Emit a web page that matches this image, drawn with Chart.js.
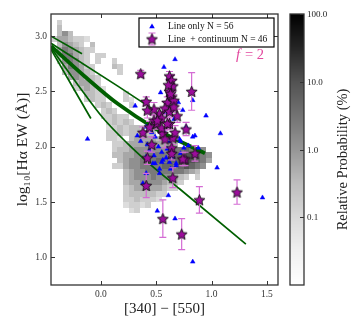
<!DOCTYPE html>
<html>
<head>
<meta charset="utf-8">
<script src="https://cdn.jsdelivr.net/npm/chart.js@4.4.0/dist/chart.umd.min.js"></script>
<style>
  html, body { margin: 0; padding: 0; background: #fff; }
  #wrap { width: 358px; height: 325px; }
</style>
</head>
<body>
<div id="wrap"><canvas id="chart"></canvas></div>
<script>
// axis ticks
const xTickVals = [0.0, 0.5, 1.0, 1.5];
const yTickVals = [1.0, 1.5, 2.0, 2.5, 3.0];
const cbTickVals = [100, 10, 1, 0.1];
const cbTickLabels = ['100.0', '10.0', '1.0', '0.1'];
const cbMin = 0.01, cbMax = 100;

// line only (blue triangles)
const triX = [-0.12, 0.67, 0.57, 0.54, 0.31, 0.41, 0.33, 0.42, 0.49, 0.83, 0.95, 1.08, 0.83, 0.85,
  0.77, 1.05, 1.46, 0.83, 0.67, 0.51, 0.61, 0.41, 0.38, 0.41, 0.44, 0.60, 0.71, 0.68, 0.55, 0.49,
  0.53, 0.47, 0.56, 0.62, 0.65, 0.53, 0.68, 0.58, 0.70, 0.72, 0.60, 0.52, 0.75, 0.79, 0.57, 0.46,
  0.66, 0.62, 0.55, 0.72, 0.48, 0.63, 0.88, 0.59, 0.36, 0.74];
const triY = [2.07, 2.79, 2.72, 2.49, 2.37, 2.18, 2.10, 2.02, 2.09, 2.42, 2.28, 2.12, 2.09, 2.10,
  2.18, 1.81, 1.54, 0.96, 1.35, 1.42, 1.56, 1.76, 1.67, 1.91, 1.97, 2.37, 2.07, 1.85, 1.86, 1.85,
  1.80, 1.85, 1.88, 1.86, 1.91, 1.76, 1.83, 2.30, 2.40, 2.05, 1.98, 2.00, 1.99, 2.01, 2.15, 2.13,
  2.25, 2.05, 1.95, 1.94, 1.92, 1.80, 1.99, 1.90, 2.05, 2.33];

// line + continuum (stars with error bars)
const starX = [0.36, 0.82, 0.41, 0.62, 0.64, 0.65, 0.62, 0.64, 0.60, 0.58, 0.62, 0.53, 0.48, 0.55,
  0.69, 0.48, 0.38, 0.42, 0.46, 0.50, 0.56, 0.62, 0.65, 0.64, 0.42, 0.58, 0.64, 0.76, 0.85, 0.77,
  0.65, 0.41, 0.89, 0.56, 0.73, 1.23, 0.51, 0.55, 0.60, 0.67, 0.66, 0.61, 0.63, 0.44, 0.74, 0.66];
const starY = [2.66, 2.50, 2.41, 2.64, 2.60, 2.55, 2.50, 2.45, 2.40, 2.35, 2.32, 2.30, 2.34, 2.26,
  2.28, 2.24, 2.13, 2.33, 2.02, 2.21, 2.12, 2.21, 2.08, 1.99, 1.90, 2.07, 1.94, 1.89, 1.94, 2.16,
  1.72, 1.65, 1.52, 1.35, 1.21, 1.59, 2.24, 2.17, 2.21, 2.13, 2.42, 2.56, 2.48, 2.18, 1.89, 2.36];
const starErr = [0.03, 0.17, 0.04, 0.04, 0.05, 0.05, 0.05, 0.06, 0.05, 0.06, 0.05, 0.05, 0.06, 0.05,
  0.06, 0.05, 0.05, 0.07, 0.07, 0.05, 0.06, 0.05, 0.06, 0.07, 0.06, 0.08, 0.06, 0.06, 0.07, 0.06,
  0.09, 0.11, 0.12, 0.17, 0.14, 0.11, 0.05, 0.05, 0.05, 0.06, 0.05, 0.05, 0.06, 0.05, 0.06, 0.05];

// model tracks
const trackAX = [-0.45, -0.17];
const trackAY = [3.00, 2.84];
const trackBX = [-0.45, 0.15, 0.50];
const trackBY = [2.935, 2.55, 2.32];
const trackCX = [-0.45, -0.15, 0.15, 0.50, 0.94];
const trackCY = [2.91, 2.64, 2.39, 2.16, 1.94];
const trackDX = [-0.45, -0.20, 0.02, 0.24, 0.44, 0.71, 1.31];
const trackDY = [2.895, 2.55, 2.26, 2.03, 1.845, 1.62, 1.12];
const trackEX = [-0.45, -0.09];
const trackEY = [2.88, 2.255];

// 2D histogram of relative probability: rows from y = 3.20 downward, columns from x = -0.45
const heatX0 = -0.45, heatY0 = 3.20, heatStep = 0.05;
const heatLevelProb = [0, 0.08, 0.15, 0.3, 0.6, 1.2, 2.5, 5, 10, 20];
const heatRows = [
  "",
  "02",
  "03",
  "0353",
  "2443221",
  "03543203",
  "04654322",
  "0366432022",
  "025653202002",
  "0046542200032",
  "0035543200002",
  "000454332",
  "000034432",
  "0000234321",
  "00000033220002",
  "000000232200021",
  "000000002320002",
  "000000000232",
  "00000000022322",
  "000000000023232",
  "00000000001232332",
  "0000000000223233433",
  "000000000022103444433",
  "00000000000223444554443",
  "0000000000023345555556667665",
  "00000000000334455666667788765",
  "00000000000034556667677888764",
  "0000000000022455666677678765",
  "000000000000034556666666543",
  "000000000000034555655543202",
  "000000000000034455554332",
  "00000000000002344444322",
  "000000000000023333322",
  "00000000000002232221",
  "000000000000012212",
  "00000000000000120"
];

const serif = "'Liberation Serif', 'DejaVu Serif', serif";
const greyStops = [255, 240, 217, 189, 150, 115, 82, 37, 0];

function greyAt(f) {
  f = Math.max(0, Math.min(1, f));
  const p = f * 8;
  const i = Math.min(7, Math.floor(p));
  const g = Math.round(greyStops[i] + (greyStops[i + 1] - greyStops[i]) * (p - i));
  return `rgb(${g},${g},${g})`;
}
function probFrac(p) {
  return (Math.log10(p) - Math.log10(cbMin)) / (Math.log10(cbMax) - Math.log10(cbMin));
}

function makeStar(r, fill) {
  const c = document.createElement('canvas');
  const s = Math.ceil(r * 2 + 3);
  c.width = c.height = s;
  const g = c.getContext('2d');
  const cx = s / 2, cy = s / 2 + 0.6;
  g.beginPath();
  for (let k = 0; k < 10; k++) {
    const a = -Math.PI / 2 + k * Math.PI / 5;
    const rr = k % 2 ? r * 0.45 : r;
    g.lineTo(cx + rr * Math.cos(a), cy + rr * Math.sin(a));
  }
  g.closePath();
  g.fillStyle = fill;
  g.fill();
  g.lineWidth = 0.9;
  g.strokeStyle = '#111';
  g.stroke();
  return c;
}
const starImg = makeStar(5.8, '#9c0c9c');
const errColor = '#d46cd4';

const toPts = (xs, ys) => xs.map((x, i) => ({x: x, y: ys[i]}));

const heatPlugin = {
  id: 'heat',
  beforeDatasetsDraw(chart) {
    const {ctx, chartArea: a, scales: {x, y}} = chart;
    ctx.save();
    ctx.beginPath();
    ctx.rect(a.left, a.top, a.width, a.height);
    ctx.clip();
    heatRows.forEach((row, j) => {
      for (let i = 0; i < row.length; i++) {
        const d = +row[i];
        if (!d) continue;
        const x0 = Math.round(x.getPixelForValue(heatX0 + i * heatStep));
        const x1 = Math.round(x.getPixelForValue(heatX0 + (i + 1) * heatStep));
        const y0 = Math.round(y.getPixelForValue(heatY0 - j * heatStep));
        const y1 = Math.round(y.getPixelForValue(heatY0 - (j + 1) * heatStep));
        ctx.fillStyle = greyAt(probFrac(heatLevelProb[d]));
        ctx.fillRect(x0, y0, x1 - x0, y1 - y0);
      }
    });
    ctx.restore();
  }
};

function drawErr(ctx, px, pTop, pBot, cap) {
  ctx.beginPath();
  ctx.moveTo(px, pTop); ctx.lineTo(px, pBot);
  ctx.moveTo(px - cap, pTop); ctx.lineTo(px + cap, pTop);
  ctx.moveTo(px - cap, pBot); ctx.lineTo(px + cap, pBot);
  ctx.stroke();
}

const errPlugin = {
  id: 'errbars',
  beforeDatasetDraw(chart, args) {
    if (chart.data.datasets[args.index].label !== 'stars') return;
    const {ctx, scales: {x, y}} = chart;
    ctx.save();
    ctx.strokeStyle = errColor;
    ctx.lineWidth = 1.2;
    starX.forEach((sx, i) => {
      const px = x.getPixelForValue(sx);
      drawErr(ctx, px, y.getPixelForValue(starY[i] + starErr[i]), y.getPixelForValue(starY[i] - starErr[i]), 3.5);
    });
    ctx.restore();
  }
};

const decorPlugin = {
  id: 'decor',
  afterDraw(chart) {
    const {ctx, chartArea: a, scales: {x, y}} = chart;
    ctx.save();
    // frame and inward ticks
    ctx.strokeStyle = '#333';
    ctx.lineWidth = 1.3;
    ctx.strokeRect(a.left, a.top, a.width, a.height);
    ctx.lineWidth = 1;
    ctx.beginPath();
    xTickVals.forEach(v => {
      const px = Math.round(x.getPixelForValue(v)) + 0.5;
      ctx.moveTo(px, a.bottom); ctx.lineTo(px, a.bottom - 4);
      ctx.moveTo(px, a.top); ctx.lineTo(px, a.top + 4);
    });
    yTickVals.forEach(v => {
      const py = Math.round(y.getPixelForValue(v)) + 0.5;
      ctx.moveTo(a.left, py); ctx.lineTo(a.left + 4, py);
      ctx.moveTo(a.right, py); ctx.lineTo(a.right - 4, py);
    });
    ctx.stroke();

    // f = 2 label
    ctx.fillStyle = '#e2489e';
    ctx.textBaseline = 'alphabetic';
    ctx.textAlign = 'left';
    ctx.font = `italic 15px ${serif}`;
    ctx.fillText('f', a.right - 42, a.top + 45);
    ctx.font = `14.5px ${serif}`;
    ctx.fillText('= 2', a.right - 33, a.top + 45);

    // legend
    const lx = a.right - 139, ly = a.top + 4, lw = 135, lh = 29;
    ctx.fillStyle = '#fff';
    ctx.fillRect(lx, ly, lw, lh);
    ctx.strokeStyle = '#000';
    ctx.lineWidth = 1.2;
    ctx.strokeRect(lx, ly, lw, lh);
    ctx.fillStyle = '#0000ff';
    ctx.beginPath();
    ctx.moveTo(lx + 13, ly + 5.5);
    ctx.lineTo(lx + 15.8, ly + 10.3);
    ctx.lineTo(lx + 10.2, ly + 10.3);
    ctx.closePath();
    ctx.fill();
    ctx.strokeStyle = errColor;
    ctx.lineWidth = 1.2;
    drawErr(ctx, lx + 13, ly + 15, ly + 27, 3.5);
    ctx.drawImage(starImg, lx + 13 - starImg.width / 2, ly + 21 - starImg.height / 2);
    ctx.fillStyle = '#111';
    ctx.font = `9.5px ${serif}`;
    ctx.textBaseline = 'middle';
    ctx.fillText('Line only N = 56', lx + 29, ly + 8);
    ctx.fillText('Line  + continuum N = 46', lx + 29, ly + 21);

    // colorbar
    const cl = a.right + 12, cw = 14;
    for (let py = a.top; py < a.bottom; py++) {
      ctx.fillStyle = greyAt((a.bottom - py - 0.5) / (a.bottom - a.top));
      ctx.fillRect(cl, py, cw, 1);
    }
    ctx.strokeStyle = '#333';
    ctx.lineWidth = 1.3;
    ctx.strokeRect(cl, a.top, cw, a.bottom - a.top);
    ctx.lineWidth = 1;
    ctx.fillStyle = '#222';
    ctx.font = `9px ${serif}`;
    ctx.textBaseline = 'middle';
    cbTickVals.forEach((v, i) => {
      const py = Math.round(a.bottom - probFrac(v) * (a.bottom - a.top)) + 0.5;
      ctx.beginPath();
      ctx.moveTo(cl + cw - 4, py); ctx.lineTo(cl + cw, py);
      ctx.stroke();
      ctx.fillText(cbTickLabels[i], cl + cw + 3, py);
    });
    ctx.translate(a.right + 65, (a.top + a.bottom) / 2 + 10);
    ctx.rotate(-Math.PI / 2);
    ctx.textAlign = 'center';
    ctx.font = `14.5px ${serif}`;
    ctx.fillStyle = '#222';
    ctx.fillText('Relative Probability (%)', 0, 0);
    ctx.restore();
  }
};

const trackStyle = (xs, ys, w) => ({
  type: 'scatter',
  data: toPts(xs, ys),
  showLine: true,
  borderColor: '#005f00',
  borderWidth: w,
  pointRadius: 0,
  cubicInterpolationMode: 'monotone',
  fill: false
});

new Chart(document.getElementById('chart'), {
  type: 'scatter',
  data: {
    datasets: [
      {
        label: 'stars',
        data: toPts(starX, starY),
        pointStyle: starImg,
        pointRadius: 6
      },
      {
        label: 'tri',
        data: toPts(triX, triY),
        pointStyle: 'triangle',
        pointRadius: 2.7,
        backgroundColor: '#0000ff',
        borderColor: '#0000ff',
        borderWidth: 0.5
      },
      trackStyle(trackAX, trackAY, 1.7),
      trackStyle(trackBX, trackBY, 1.7),
      trackStyle(trackCX, trackCY, 3.8),
      trackStyle(trackDX, trackDY, 1.7),
      trackStyle(trackEX, trackEY, 1.7)
    ]
  },
  options: {
    responsive: true,
    maintainAspectRatio: false,
    animation: false,
    events: [],
    layout: { padding: { left: 8, right: 80, top: 14, bottom: 0 } },
    plugins: { legend: { display: false }, tooltip: { enabled: false } },
    scales: {
      x: {
        type: 'linear',
        min: -0.45,
        max: 1.6,
        grid: { display: false, drawTicks: false },
        border: { display: false },
        afterBuildTicks: s => { s.ticks = xTickVals.map(v => ({value: v})); },
        afterFit: s => { s.height = 40; },
        ticks: {
          autoSkip: false,
          maxRotation: 0,
          padding: 4,
          color: '#333',
          font: { family: serif, size: 9.5 },
          callback: v => Number(v).toFixed(1)
        },
        title: {
          display: true,
          text: '[340] \u2212 [550]',
          color: '#222',
          font: { family: serif, size: 15 },
          padding: { top: 0, bottom: 7 }
        }
      },
      y: {
        type: 'linear',
        min: 0.75,
        max: 3.2,
        grid: { display: false, drawTicks: false },
        border: { display: false },
        afterBuildTicks: s => { s.ticks = yTickVals.map(v => ({value: v})); },
        afterFit: s => { s.width = 43; },
        ticks: {
          autoSkip: false,
          padding: 4,
          color: '#333',
          font: { family: serif, size: 9.5 },
          callback: v => Number(v).toFixed(1)
        },
        title: {
          display: true,
          text: 'log\u2081\u2080[H\u03b1 EW (\u00c5)]',
          color: '#222',
          font: { family: serif, size: 15.5 },
          padding: { top: 6, bottom: 0 }
        }
      }
    }
  },
  plugins: [heatPlugin, errPlugin, decorPlugin]
});
</script>
</body>
</html>
